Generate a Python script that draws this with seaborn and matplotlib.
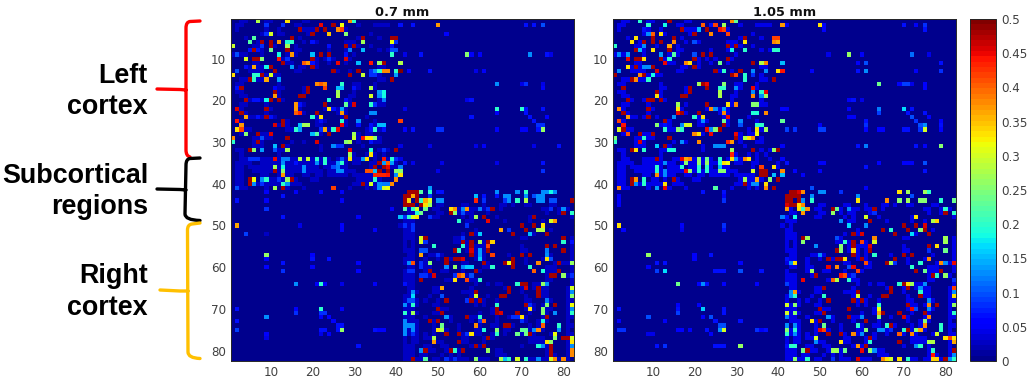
import numpy as np
import matplotlib
matplotlib.use("Agg")
import matplotlib.pyplot as plt
from matplotlib.colors import ListedColormap
from matplotlib.path import Path
from matplotlib.patches import PathPatch
import seaborn as sns

N = 82
TICKS = [10, 20, 30, 40, 50, 60, 70, 80]
CBAR_TICKS = [0, .05, .1, .15, .2, .25, .3, .35, .4, .45, .5]
CBAR_LABELS = ["0", "0.05", "0.1", "0.15", "0.2", "0.25", "0.3", "0.35", "0.4", "0.45", "0.5"]
TITLES = ["0.7 mm", "1.05 mm"]

# {row: {column: value}}, 1-based
A_UL = {
1:{7:.28,14:.33,29:.38,30:.2},
2:{9:.08,13:.08,22:.45,25:.48,27:.32},
3:{17:.48,21:.48,23:.48,26:.38,27:.42},
4:{9:.08,10:.3,20:.48,24:.35,28:.25},
5:{6:.22,15:.48,32:.48,39:.48,40:.48},
6:{5:.22,8:.48,10:.48,12:.37,14:.19,15:.2,20:.07,32:.27,39:.32,40:.08},
7:{1:.29,8:.08,10:.48,14:.27,24:.07,28:.48,30:.48,39:.07},
8:{5:.07,6:.48,7:.07,10:.24,14:.48,29:.12,32:.15,39:.1,40:.1},
9:{2:.1,12:.18,15:.37,20:.15,22:.48,24:.48,28:.07,39:.2},
10:{4:.3,6:.48,7:.48,8:.25,12:.44,14:.08,20:.48,24:.08,28:.46},
11:{13:.48,18:.4,19:.37,20:.07,26:.45,31:.15,34:.44,36:.26,37:.48,41:.28},
12:{4:.07,6:.36,9:.18,10:.48,15:.14,20:.48},
13:{2:.1,11:.48,25:.48,31:.48,34:.08,35:.13,36:.2,37:.38,38:.38,40:.2,41:.48},
14:{1:.33,6:.2,7:.2,8:.48,10:.3,29:.48,32:.29,34:.08,35:.08,40:.14},
15:{5:.48,6:.2,9:.36,12:.14,39:.48},
16:{21:.38,22:.4,23:.38,27:.2},
17:{2:.07,3:.48,11:.06,19:.48,23:.42,26:.15,27:.15,30:.07,34:.28},
18:{11:.48,19:.48,26:.27,36:.14,37:.18},
19:{11:.37,17:.48,18:.48,26:.28,34:.3,36:.13,37:.18},
20:{4:.48,6:.07,7:.07,9:.18,10:.48,12:.48,24:.19,28:.07,37:.12},
21:{16:.37,17:.07,23:.48,28:.23,30:.46,34:.2,35:.08},
22:{2:.46,9:.48,16:.37,24:.33,25:.07,27:.14},
23:{3:.48,16:.4,17:.43,21:.48,27:.37,34:.13,35:.13},
24:{4:.36,7:.07,9:.48,10:.07,20:.2,22:.33,28:.48},
25:{2:.44,13:.48,22:.07,27:.2,31:.13,41:.41},
26:{3:.37,11:.46,13:.48,17:.15,18:.27,19:.27,27:.45,31:.07,34:.07,36:.15,37:.15},
27:{2:.33,3:.42,16:.2,17:.14,22:.08,23:.36,25:.2,26:.45,34:.07,35:.2,37:.07},
28:{4:.25,7:.48,10:.46,20:.15,21:.22,24:.48,30:.27},
29:{1:.38,8:.1,14:.48,30:.29,32:.44,33:.33,34:.33,35:.25},
30:{1:.2,7:.48,21:.46,28:.25,29:.28,34:.07},
31:{11:.15,13:.48,25:.13,26:.08,27:.08},
32:{5:.48,6:.25,8:.14,11:.1,14:.27,29:.45,34:.19,37:.08,40:.48},
33:{29:.27,34:.33},
34:{5:.08,6:.08,7:.08,11:.45,13:.12,14:.12,17:.28,19:.29,21:.2,23:.2,27:.1,29:.33,32:.14,33:.33,37:.44,39:.2,40:.08},
35:{13:.13,16:.07,21:.13,23:.2,26:.13,27:.2,36:.48,38:.4,37:.14,39:.14},
36:{11:.27,13:.18,18:.13,25:.1,26:.12,35:.48,37:.48,38:.45},
37:{11:.48,13:.25,18:.13,26:.13,27:.13,33:.41,34:.41,35:.15,36:.48,38:.48,40:.25,41:.25},
38:{13:.37,35:.43,36:.43,37:.43,38:.44,40:.13,41:.3},
39:{5:.48,6:.32,8:.13,9:.2,12:.08,14:.26,15:.48,35:.2,40:.38},
40:{5:.48,6:.13,8:.08,13:.2,14:.13,32:.48,34:.3,36:.13,37:.12,38:.12,39:.38},
41:{2:.1,11:.27,13:.48,25:.42,36:.13,37:.3,38:.32},
}
A_LR = {
41:{48:.15},
42:{43:.48,44:.48,45:.48,46:.22,48:.2,50:.07,51:.07,64:.13,69:.13,71:.2,75:.13,76:.13,77:.18,78:.13},
43:{42:.48,43:.48,44:.36,45:.48,48:.08,59:.15,61:.07,64:.07,66:.13,67:.13,71:.13,73:.1,74:.13,75:.13},
44:{42:.48,43:.34,45:.48,46:.2,47:.36,48:.3,50:.13,51:.13,59:.43,61:.08,66:.08,67:.13,69:.2,71:.28,74:.13,75:.13,77:.1,78:.1,82:.48},
45:{42:.48,43:.48,44:.48,46:.48,47:.33,48:.26},
46:{42:.22,44:.2,45:.3,47:.24,53:.33,54:.37,56:.13,57:.37,60:.12,62:.08,63:.48,77:.08,80:.13},
47:{45:.19,46:.24,53:.48,54:.25,56:.1,80:.48,82:.2},
48:{41:.13,42:.08,43:.2,44:.3,45:.33,48:.08,59:.27,61:.48,73:.48},
49:{55:.2,62:.45,77:.3,78:.37},
50:{42:.08,44:.08,57:.08,70:.48,73:.48,75:.33},
51:{44:.08,65:.36,67:.08,71:.48,74:.28,75:.28},
52:{58:.48,60:.16,68:.48,72:.15,76:.48},
53:{46:.3,47:.48,56:.08,80:.48},
54:{46:.3,47:.08,56:.48,58:.48,60:.27,62:.48,63:.34,80:.2,82:.07},
55:{49:.2,56:.2,58:.48,62:.42,76:.48,78:.48},
56:{46:.1,47:.1,54:.48,55:.2,58:.46,60:.14,62:.48,76:.12,80:.48},
57:{46:.36,50:.08,58:.48,60:.14,63:.42,70:.48,72:.48,76:.13},
58:{52:.48,54:.48,55:.48,56:.46,60:.16,68:.48,76:.33,77:.1},
59:{43:.13,44:.41,46:.08,48:.25,52:.48,61:.48,66:.48,67:.32,68:.48,74:.38,79:.48,82:.26},
60:{46:.08,52:.13,54:.26,56:.13,57:.16,58:.16,63:.2,68:.48,72:.2},
61:{43:.08,44:.08,48:.48,59:.48,73:.4,75:.19,79:.48},
62:{46:.08,47:.08,49:.46,54:.08,55:.41,56:.38,58:.1,77:.48,78:.48,80:.26,82:.08},
63:{46:.48,54:.33,57:.42,60:.2},
64:{42:.07,69:.2,70:.48,71:.48,75:.26,76:.13},
65:{51:.36,67:.48,71:.46,74:.48,82:.3},
66:{44:.13,59:.48,67:.48,74:.48,82:.13},
67:{44:.17,51:.1,59:.3,65:.48,66:.48,74:.48,82:.25},
68:{43:.1,44:.1,52:.48,57:.08,58:.48,60:.48,76:.12},
69:{42:.13,44:.2,64:.2,71:.48,72:.08,76:.25,78:.48,82:.32},
70:{50:.48,64:.48,72:.33,75:.25,82:.13},
71:{42:.2,44:.27,51:.48,64:.48,65:.46,69:.48,75:.25,78:.13,82:.2},
72:{52:.14,57:.48,60:.2,68:.08,69:.08,70:.33,76:.48},
73:{42:.13,48:.48,50:.48,60:.08,61:.4,70:.08,75:.19},
74:{42:.13,43:.13,44:.13,51:.24,59:.38,66:.48,67:.48,75:.4,79:.2},
75:{42:.13,44:.13,50:.33,51:.28,61:.19,64:.25,70:.23,71:.23,73:.13,74:.38,79:.13},
76:{42:.13,44:.08,52:.48,55:.48,57:.08,58:.33,64:.2,69:.24,71:.24,72:.48,78:.32},
77:{49:.28,62:.48,78:.25,80:.48,81:.48,82:.3},
78:{49:.37,55:.48,76:.33,77:.25,82:.33},
79:{59:.48,61:.48,74:.19,75:.13,77:.48,82:.13},
80:{46:.13,47:.48,53:.48,54:.2,56:.48,62:.26,77:.48,82:.38},
81:{77:.48,82:.38},
82:{44:.48,47:.22,52:.08,54:.08,59:.25,65:.28,66:.15,67:.2,69:.3,71:.2,74:.13,77:.3,78:.38,80:.38},
}
A_UR = {
2:{41:.07,44:.07,50:.37,71:.07,73:.07,75:.1},
4:{52:.06},
9:{42:.04,46:.07,57:.25,58:.05,60:.05,72:.13,76:.07,77:.04},
11:{41:.28},
13:{41:.5,43:.05,48:.07,61:.05,59:.04},
16:{64:.13,71:.08,70:.04,75:.04},
17:{75:.05},
20:{58:.07,57:.04},
22:{64:.2,70:.2,71:.07,42:.04,75:.07},
23:{64:.05,71:.07},
24:{58:.07,72:.07,76:.06},
25:{41:.42,73:.07},
26:{74:.08,75:.08},
27:{42:.06,44:.07,50:.08,51:.08,64:.05,70:.05,71:.05,74:.07,75:.26},
31:{79:.07,41:.04,48:.04,59:.04,61:.05,73:.04},
34:{41:.04},
35:{42:.07,75:.07,44:.04,51:.04,64:.04},
36:{41:.12},
37:{41:.25,75:.08,50:.04},
38:{41:.33},
41:{48:.14},
}
A_LL = {
42:{9:.05,16:.05,22:.05,27:.05},
43:{13:.07},
44:{2:.07,9:.05,27:.05},
46:{9:.08,39:.05},
48:{13:.07,31:.05,41:.15},
50:{2:.36,27:.06,17:.04},
51:{27:.05,35:.05},
52:{4:.09,9:.03},
57:{9:.26,20:.06},
58:{9:.05,20:.07,24:.07},
59:{13:.07,31:.05},
60:{9:.06,20:.05},
61:{13:.08,31:.06},
64:{16:.13,22:.2,21:.05,23:.05,27:.04,35:.05},
70:{2:.07,22:.2,16:.06,27:.05},
71:{16:.08,22:.08,23:.08},
72:{9:.13,22:.05,24:.06},
73:{2:.07,25:.06},
74:{26:.07,27:.07},
75:{2:.09,22:.07,23:.07,26:.07,27:.26,35:.07,36:.06,37:.06},
76:{9:.06,24:.05,22:.04},
77:{9:.04},
79:{31:.07},
}
B_UL = {
1:{7:.2,14:.48,29:.38,30:.23},
2:{9:.2,13:.18,22:.4,24:.07,25:.42,27:.27,41:.37},
3:{8:.07,17:.48,21:.15,23:.48,26:.44,27:.42},
4:{9:.13,10:.4,12:.33,20:.48,24:.38,28:.42},
5:{6:.33,10:.48,15:.48,32:.48,39:.42,40:.42},
6:{5:.33,8:.48,10:.48,12:.48,15:.38,20:.1,32:.33,39:.38,40:.36},
7:{1:.2,8:.13,14:.36,28:.48,30:.48},
8:{6:.48,7:.15,10:.33,14:.48,29:.18,32:.2,39:.2,40:.2},
9:{2:.13,4:.14,12:.14,15:.22,20:.1,22:.48,24:.48},
10:{4:.45,6:.48,7:.48,8:.33,12:.48,14:.2,20:.48,28:.48},
11:{13:.45,18:.38,19:.33,26:.24,34:.48,36:.28,37:.38},
12:{4:.33,6:.48,8:.13,9:.13,10:.48,20:.48},
13:{2:.13,11:.46,25:.48,27:.2,31:.48,34:.13,37:.13,40:.33,41:.44},
14:{1:.48,7:.38,8:.48,10:.18,29:.48,30:.42,32:.2,34:.08},
15:{5:.48,6:.38,9:.2,32:.2,39:.48},
16:{21:.27,22:.48,23:.45,27:.25},
17:{3:.48,19:.48,23:.48,26:.2,27:.2,30:.13,34:.45},
18:{11:.48,19:.48,26:.28,34:.13,36:.2,37:.45},
19:{11:.33,17:.48,18:.48,26:.28,34:.38,36:.13,37:.27},
20:{4:.48,9:.48,10:.48,12:.48},
21:{16:.27,23:.48,28:.33,30:.38,34:.25,35:.25},
22:{2:.38,9:.48,16:.33,24:.38,25:.13,27:.14},
23:{3:.48,16:.45,17:.48,21:.48,27:.38,34:.19,35:.19,37:.38},
24:{4:.37,9:.48,15:.13,20:.2,22:.33,28:.45},
25:{2:.42,13:.48,22:.13,27:.24,31:.13,41:.24},
26:{3:.44,11:.25,13:.07,17:.13,18:.3,19:.3,27:.48,31:.1,35:.2,36:.2},
27:{2:.3,3:.48,13:.2,16:.25,17:.2,23:.45,24:.13,25:.25,26:.48,35:.33,37:.27},
28:{4:.41,7:.48,10:.48,20:.38,21:.33,24:.45,30:.45,35:.32},
29:{1:.25,8:.2,14:.48,30:.48,32:.28,33:.33,34:.38},
30:{1:.2,7:.46,17:.13,21:.38,28:.43,29:.37},
31:{11:.16,13:.48,25:.13,26:.13,27:.13},
32:{5:.48,6:.33,8:.2,14:.19,15:.19,29:.27,34:.48,39:.26,40:.48},
33:{29:.43},
34:{11:.48,17:.45,18:.36,19:.38,21:.26,23:.24,26:.2,29:.33,30:.13,32:.38,33:.33},
35:{13:.13,18:.25,21:.26,23:.26,26:.2,27:.33,28:.32},
36:{11:.2,17:.2,21:.2,23:.2,26:.15,36:.42,39:.33},
37:{11:.2,13:.13,18:.45,19:.26,21:.2,23:.2,26:.25,27:.25,34:.3,36:.48,37:.48,41:.38},
38:{11:.38,13:.13,36:.48,37:.48,39:.15},
39:{5:.48,6:.37,8:.2,15:.48,32:.27,35:.36,38:.25,40:.48},
40:{5:.48,6:.13,8:.2,13:.33,32:.48,34:.13,35:.13,37:.33},
41:{2:.38,11:.14,13:.45,25:.22,37:.38,39:.48},
}
B_LR = {
41:{48:.13},
42:{43:.48,44:.48,45:.46,46:.38,50:.13,51:.13,55:.08,69:.33,71:.27,75:.27,76:.2},
43:{42:.48,43:.48,44:.48,45:.48,48:.13,59:.13,72:.1},
44:{42:.48,43:.48,45:.48,46:.13,48:.2,59:.33,66:.38,69:.25,71:.27,74:.25,75:.25,79:.2,82:.24},
45:{42:.46,43:.48,44:.48,45:.33,46:.38},
46:{42:.37,45:.33,46:.2,47:.37,53:.48,54:.24,57:.13,63:.48,80:.2},
47:{46:.37,53:.26,63:.08,80:.48,82:.2},
48:{44:.18,61:.3,73:.33},
49:{55:.13,62:.48,77:.28,78:.34},
50:{57:.17,61:.13,70:.48,73:.48,75:.46},
51:{65:.48,67:.2,71:.48,74:.25,75:.48},
52:{58:.48,60:.46,68:.48,72:.17,76:.48},
53:{46:.48,47:.27,54:.1,63:.38,80:.27},
54:{46:.25,56:.2,58:.48,60:.42,63:.3,80:.27},
55:{49:.13,55:.25,58:.48,62:.46,76:.48,78:.33},
56:{54:.48,55:.25,58:.34,62:.48,76:.08,80:.24},
57:{50:.13,58:.48,63:.2,70:.48,72:.48},
58:{52:.48,54:.48,55:.48,56:.33,60:.48,68:.48,76:.38},
59:{43:.13,44:.33,61:.41,66:.48,67:.27,68:.08,74:.2,79:.38,80:.13,82:.45},
60:{52:.45,54:.38,57:.1,58:.45,72:.2},
61:{48:.26,59:.42,73:.48,75:.24,79:.48},
62:{49:.48,55:.44,56:.41,58:.08,77:.48,78:.2,80:.26},
63:{46:.45,53:.4,54:.28,57:.2,82:.08},
64:{69:.2,70:.48,71:.33,72:.27,75:.13},
65:{51:.48,67:.48,71:.48,74:.13,82:.42},
66:{43:.13,44:.37,59:.48,67:.48,74:.2,82:.13},
67:{43:.13,44:.2,51:.2,59:.3,65:.48,66:.48,74:.48,82:.33},
68:{52:.48,58:.48,60:.48,76:.13},
69:{42:.3,44:.25,64:.2,71:.48,76:.38,78:.48,82:.26},
70:{50:.48,57:.48,64:.32,72:.45,73:.1,76:.13},
71:{42:.3,44:.25,51:.48,64:.36,65:.48,69:.48,75:.48,82:.2},
72:{52:.14,57:.48,60:.13,64:.25,70:.46,76:.38},
73:{48:.33,50:.48,61:.48,75:.25},
74:{42:.1,44:.13,51:.24,59:.2,66:.2,67:.48,75:.38,79:.2},
75:{42:.3,44:.2,50:.45,51:.42,61:.25,64:.13,65:.13,67:.08,70:.2,71:.48,73:.25,74:.36,79:.2},
76:{42:.2,44:.13,52:.48,55:.48,58:.38,60:.13,69:.4,72:.38,78:.3},
77:{49:.3,62:.48,80:.33,81:.42,82:.33},
78:{49:.13,55:.33,62:.2,69:.48,76:.28,77:.28,82:.36},
79:{43:.2,44:.2,59:.37,61:.48,73:.13,74:.2},
80:{46:.24,47:.48,53:.27,54:.27,56:.24,60:.45,62:.26,63:.13,77:.2,82:.48},
81:{77:.44,82:.13},
82:{44:.25,47:.2,53:.08,59:.46,65:.38,66:.33,67:.3,69:.33,71:.2,77:.34,78:.34,80:.48,81:.13,82:.2},
}
B_UR = {
2:{42:.05,50:.33,70:.07,75:.08,51:.05,73:.05},
3:{51:.06,75:.07},
9:{57:.26,72:.11,60:.05,52:.04,76:.04},
11:{41:.15,61:.1,59:.05,79:.07},
13:{61:.13,59:.07,79:.08,48:.05,73:.05},
16:{64:.24,70:.09,71:.09,69:.05,72:.04,75:.06},
17:{75:.06},
20:{58:.07,57:.05,60:.04},
22:{64:.12,70:.17,41:.06,42:.05,72:.07,57:.05},
23:{64:.09,71:.07,75:.07},
24:{72:.1,58:.05,57:.05,76:.05},
25:{41:.23,73:.08,61:.07,79:.06},
26:{61:.08,74:.1,75:.13,79:.07,50:.05},
27:{42:.09,44:.08,50:.09,51:.09,61:.06,64:.06,65:.06,70:.07,71:.07,74:.08,75:.3,79:.06},
31:{61:.12,59:.07,73:.07,79:.25,41:.05,75:.05},
34:{41:.06},
35:{42:.07,50:.05,51:.05,64:.06,70:.05,71:.05,72:.05,75:.1},
36:{61:.07},
37:{44:.06,50:.05,75:.07},
38:{41:.15,46:.05},
41:{48:.1,61:.05},
}
B_LL = {
42:{22:.07,27:.07},
43:{2:.05,27:.05,42:.48},
44:{2:.06,27:.08},
45:{2:.05},
48:{41:.12,42:.07},
50:{2:.33,27:.08,17:.05},
51:{27:.07,3:.06,17:.04},
57:{9:.26,24:.07,20:.05},
58:{20:.05,42:.07},
59:{11:.07,13:.07,31:.06},
60:{9:.05},
61:{11:.09,13:.17,25:.07,26:.07,27:.07,31:.1,36:.07},
64:{16:.24,21:.06,22:.13,23:.07,27:.06,35:.06,42:.09},
69:{42:.3,16:.05,21:.05},
70:{2:.07,16:.07,22:.16,27:.07},
71:{16:.09,27:.07,42:.3},
72:{9:.1,24:.1,22:.05,42:.12},
73:{25:.07,31:.07,2:.05,13:.05},
74:{26:.1,27:.1,42:.13},
75:{2:.08,3:.08,17:.06,16:.06,23:.07,26:.13,27:.3,35:.08,37:.07,36:.05,19:.05,42:.25},
76:{42:.2,9:.04,10:.04,24:.05},
79:{11:.07,13:.08,25:.07,26:.07,27:.07,31:.26,42:.07},
}
# faint blue cells inside the two cortical blocks: {row: [columns]}
FAINT_UL = {
1:[3,4,9,10,18,19],2:[2,3,16,17,31,35,36,37,38],3:[2,9,12,18,19,20,28],4:[8,12,13,19,34],
5:[4,17,31,36],6:[7,18,21,28,29,30],7:[6,7,11,16,29,31,34],8:[8,16,17,24,28,36,38],
9:[1,3,4,8,14,16,30],10:[13,21,23,25,29],11:[6,7,14,15,21,24,28],12:[5,7,8,17,18,21,36,37],
13:[5,6,7,8,16,17,26,29],14:[9,11,12,36],15:[3,4,7,8,36,37],16:[2,3,12,30,31,35],
17:[12,13,18,31,35],18:[2,3,12,18,30],19:[3,4,12,29,30],20:[5,8,13,29,36],
21:[3,4,9,18,29,36,37],22:[3,10,17,23,26,28],23:[4,9,18,26,28],24:[5,6,8,11,21,27,33],
25:[3,14,21,23,28,35],26:[12,14,21,22,28,35],27:[4,5,14,15,24,33,36],28:[3,8,9,22,31,33,34],
29:[6,7,9,10,31,36],30:[6,8,15,18,31,35,36],31:[6,7,8,14,22,32],32:[2,3,12,13,22,36,38],
33:[3,12,30,33,35,37],
34:[3,4,8,9,10,12,15,16,18,20,22,24,26,28,30,31,35,38,41],
35:[2,3,4,5,8,9,10,11,12,14,15,17,18,19,20,22,24,25,28,30,31,34,35,40],
36:[2,3,5,6,7,8,9,10,12,14,15,16,17,19,20,21,23,24,27,28,34,39,40],
37:[2,3,6,7,8,9,10,12,14,15,16,17,19,20,21,22,24,25,28,29,30],
38:[2,3,8,9,12,14,15,18,19,21,22,24,25,26,27,28,30,31,32,33,34],
39:[2,3,10,11,13,16,20,21,31,32,33,34,36],40:[2,3,7,9,10,11,12,15,16,17,30,31,33,35],
41:[3,4,9,14,18,29,33,35],
}
FAINT_LR = {
45:[50,51,56,57,61,65,66,68,71,72,77,78],46:[43,49,50,55,58,59,61,62,65,75,76,79,81],
47:[43,44,50,51,55,57,58,62,76,79],48:[49,50,56,58,64,72,82],49:[42,43,44,57,58,66,72,75],
50:[41,43],51:[42,43,59,67,77],52:[42,43,44,56,59,73],53:[42,43,44,54,55,70,71,82],
54:[42,44,54,55,57,61,82],55:[42,44,57,59,60,61,70,82],56:[42,43,44,57,59,61,70,71,82],
57:[43,44,48,49,51,59,61,67,77,82],58:[42,43,44,47,50,53,59,61,71,75,82],
59:[42,47,56,57,62,71,78,80,81],60:[43,44,47,48,61,62,76,77,78,82],
61:[42,47,51,52,56,60,76,77,78,82],62:[42,43,44,48,57,76,81],63:[42,43,44,52,53,58,59,76,77,82],
64:[43,44,59,62,64,65,73,74,82],65:[43,44,49,50,58,66,70,73,75,76,81],
66:[43,45,49,50,56,57,58,70,75,76,81],67:[42,43,48,58,62,71,75,76,81],
68:[42,45,47,50,59,61,64,71,72,77,81,82],69:[43,45,49,50,59,61,72,73,75,81],
70:[42,43,44,51,52,63,71,73,76,77,81],71:[43,45,49,50,60,63,72,76,81],
72:[42,43,44,47,53,58,59,64,67,71,75,81,82],73:[43,44,45,49,53,58,64,71,74,76,81],
74:[45,49,55,60,63,64,68,72,74,81,82],75:[43,45,49,52,55,59,60,66,67,72,75,81],
76:[43,45,47,49,56,59,60,63,66,70,73,77,81,82],77:[42,44,45,47,48,56,57,61,63,72,73,74,75,81],
78:[42,44,45,50,51,56,57,61,72,73,74,75,81],79:[42,43,44,47,48,51,52,58,60,70,76,81],
80:[42,43,44,48,49,52,55,64,65,76,81],81:[42,43,44,46,47,51,53,55,64,65,66,76,78,81],
82:[42,43,45,46,49,50,53,55,56,57,60,61,62,72,73,75,76,79,81],
}
FAINT_A = .025
FAINT_B = .04


def build(faint, *blocks):
    m = np.zeros((N, N))
    for lists in (FAINT_UL, FAINT_LR):
        for r, cols in lists.items():
            for c in cols:
                m[r - 1, c - 1] = faint
    for block in blocks:
        for r, cells in block.items():
            for c, v in cells.items():
                m[r - 1, c - 1] = v
    return m


mat_a = build(FAINT_A, A_UL, A_LR, A_UR, A_LL)
mat_b = build(FAINT_B, B_UL, B_LR, B_UR, B_LL)
jet64 = ListedColormap(plt.get_cmap("jet")(np.linspace(0.014, 1.0, 64)))

W, H = 1028, 381
GREY = "#404040"
sns.set_style("white")
plt.rcParams["font.family"] = ["DejaVu Sans"]
fig = plt.figure(figsize=(W / 100, H / 100), dpi=100, facecolor="white")


def px_axes(x0, y0, x1, y1):
    return fig.add_axes([x0 / W, 1 - y1 / H, (x1 - x0) / W, (y1 - y0) / H])


ax_a = px_axes(231, 19, 574, 361)
ax_b = px_axes(613, 19, 956, 361)
cax = px_axes(970, 19, 995.5, 361)

for i, (ax, mat, title) in enumerate(zip((ax_a, ax_b), (mat_a, mat_b), TITLES)):
    sns.heatmap(mat, ax=ax, cmap=jet64, vmin=0, vmax=.5, square=False,
                cbar=i == 1, cbar_ax=cax if i == 1 else None,
                xticklabels=False, yticklabels=False)
    pos = [t - .5 for t in TICKS]
    ax.set_xticks(pos)
    ax.set_yticks(pos)
    ax.set_xticklabels(TICKS, rotation=0)
    ax.set_yticklabels(TICKS, rotation=0)
    ax.tick_params(direction="in", length=2.2, width=.7, color="#262626", labelcolor=GREY,
                   labelsize=8.6, top=True, right=True, left=True, bottom=True, pad=3.5)
    for s in ax.spines.values():
        s.set_visible(True)
        s.set_color("#262626")
        s.set_linewidth(.7)
    ax.set_title(title, fontsize=9.3, fontweight="bold", color="#111111", pad=2.5)

cb = ax_b.collections[0].colorbar
cb.set_ticks(CBAR_TICKS)
cb.set_ticklabels(CBAR_LABELS)
cax.tick_params(direction="in", length=2.2, width=.7, color="#262626", labelcolor=GREY,
                labelsize=8.6, right=True, pad=4)
cb.outline.set_visible(True)
cb.outline.set_edgecolor("#262626")
cb.outline.set_linewidth(.7)

LABELS = [("Left", 83), ("cortex", 114), ("Subcortical", 183), ("regions", 214), ("Right", 283), ("cortex", 315)]
for text, y in LABELS:
    fig.text(148 / W, 1 - y / H, text, ha="right", va="baseline", fontsize=19.4,
             fontweight="bold", family=["Liberation Sans"], color="black")


def bracket(points, color):
    verts, codes = [], []
    for p, c in points:
        verts.append((p[0] / W, 1 - p[1] / H))
        codes.append(c)
    fig.add_artist(PathPatch(Path(verts, codes), transform=fig.transFigure, fill=False,
                             edgecolor=color, linewidth=2.4, capstyle="round", joinstyle="round"))


M, L, C = Path.MOVETO, Path.LINETO, Path.CURVE3
bracket([((200, 21), M), ((190, 21.5), L), ((186, 22), C), ((186, 28), C), ((186, 150), L),
         ((186, 156), C), ((190, 157), C), ((157, 89), M), ((180, 89.5), L), ((186, 90), L)], "#ff0000")
bracket([((200, 158), M), ((190, 158.5), L), ((186, 159), C), ((186, 165), C), ((185, 214), L),
         ((185, 220), C), ((200, 220.5), C), ((157, 189), M), ((180, 189.5), L), ((186, 190), L)], "#000000")
bracket([((200, 223), M), ((192, 224), L), ((187.5, 224.5), C), ((187.5, 230), C), ((188, 352), L),
         ((188, 358), C), ((200, 358.5), C), ((160, 290), M), ((180, 291), L), ((188, 291), L)], "#ffc000")

fig.savefig("out.png", dpi=100, facecolor="white")
